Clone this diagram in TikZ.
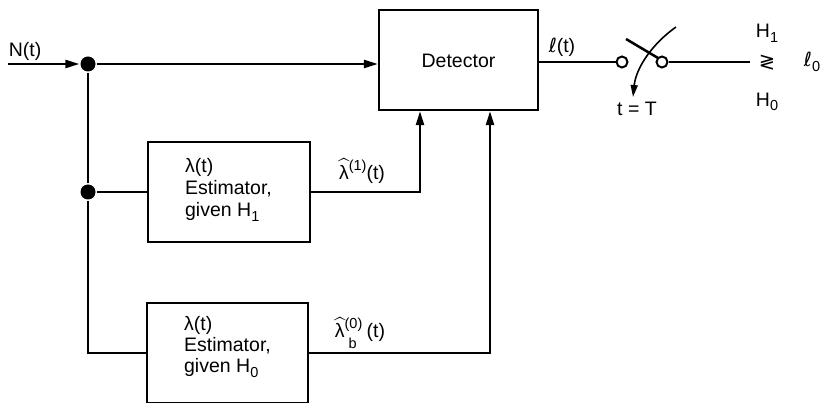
\documentclass[tikz,border=0pt]{standalone}
\usepackage{amsmath}
\usepackage{fontspec}
\setmainfont{Liberation Sans}
\newfontfamily\dejavu{DejaVu Sans}
\usetikzlibrary{arrows.meta}
\newcommand\sbs[1]{\raisebox{-0.45ex}{\fontsize{14.5}{14.5}\selectfont #1}}
\newcommand\sps[1]{\raisebox{0.85ex}{\fontsize{14.5}{14.5}\selectfont #1}}
\newcommand\scriptl{{\dejavu ℓ}}
\newcommand\hatlam{$\widehat{\text{λ}}$}
\begin{document}
\begin{tikzpicture}[x=1pt,y=-1pt,
  line width=2.3pt,
  txt/.style={font=\fontsize{19.5}{22}\selectfont, inner sep=0pt},
  blk/.style={draw, rectangle, inner sep=0pt, line width=2.3pt},
  arr/.style={-{Triangle[length=14pt,width=8pt]}},
  jdot/.style={circle, fill, inner sep=0pt, minimum size=15pt},
  sw/.style={circle, draw, fill=white, inner sep=0pt, minimum size=11pt, line width=2pt}]
\useasboundingbox (0,0) rectangle (825,403);
% blocks
\node[blk, minimum width=159pt, minimum height=100pt] (det) at (458.5,60) {};
\node[txt] (dettxt) at (458.5,61) {Detector};
\node[blk, minimum width=162pt, minimum height=100pt] (est1) at (229,192) {};
\node[txt, anchor=west, align=left, font=\fontsize{19.5}{22}\selectfont] (est1txt) at (184,190) {λ(t)\\Estimator,\\given H\sbs{1}};
\node[blk, minimum width=161pt, minimum height=100pt] (est2) at (227.5,353) {};
\node[txt, anchor=west, align=left, font=\fontsize{19.5}{21}\selectfont] (est2txt) at (183,347) {λ(t)\\Estimator,\\given H\sbs{0}};
% junctions
\coordinate (in) at (8,64);
\node[jdot] (d1) at (88,64) {};
\node[jdot] (d2) at (88,192) {};
\coordinate (c3) at (88,353);
\coordinate (k1) at (420,192);
\coordinate (k2) at (490,353);
% switch
\node[sw] (s1) at (622,62) {};
\node[sw] (s2) at (662,62) {};
\coordinate (outend) at (750,62);
\coordinate (bl1) at (626,39);
\coordinate (bl2) at (658,58);
\coordinate (arcA) at (676,27);
\coordinate (arcB) at (633,97);
% connectors
\draw[arr] (in) -- (d1.west);
\draw[arr] (d1) -- (d1 -| det.west);
\draw (d1) -- (d2) -- (c3) -- (c3 -| est2.west);
\draw (d2) -- (d2 -| est1.west);
\draw[arr] (est1.east |- k1) -- (k1) -- (k1 |- det.south);
\draw[arr] (est2.east |- k2) -- (k2) -- (k2 |- det.south);
\draw (det.east |- s1) -- (s1.west);
\draw (s2.east) -- (outend);
\draw[line width=2.5pt] (bl1) -- (bl2);
\draw[line width=1.6pt, -{Triangle[length=12pt,width=7pt]}] (arcA) .. controls (652,44) and (636,68) .. (arcB);
% labels
\node[txt] (lN) at (25,51) {N(t)};
\node[txt] (lel) at (562,47) {\scriptl(t)};
\node[txt] (lT) at (637,109) {t = T};
\node[txt] (lH1) at (767,33) {H\sbs{1}};
\node[txt] (lgl) at (767,63) {{\dejavu ≷}};
\node[txt] (lH0) at (767,102) {H\sbs{0}};
\node[txt] (ll0) at (812,62) {\scriptl\sbs{0}};
\node[txt] (lam1) at (362,171) {\hatlam\sps{(1)}(t)};
\node[txt] (lam0) at (360,333) {\hatlam\rlap{\sps{(0)}}\raisebox{-1.1ex}{\fontsize{14.5}{14.5}\selectfont\hspace{4pt}b}\hspace{10pt}(t)};
\end{tikzpicture}
\end{document}
